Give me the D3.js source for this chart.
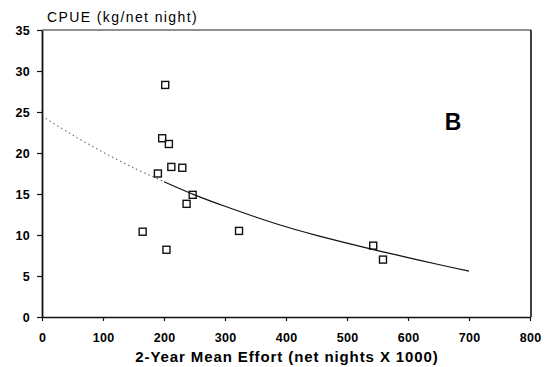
<!DOCTYPE html>
<html lang="en">
<head>
<meta charset="UTF-8">
<title>CPUE vs Effort</title>
<script src="https://d3js.org/d3.v7.min.js"></script>
<style>
    body { margin: 0; background: #fff; }
    svg { font-family: Arial, "Liberation Sans", sans-serif; display: block; }
    .tick text { font-size: 12.5px; font-weight: bold; fill: #000; letter-spacing: 0.3px; }
    .pt { fill: none; stroke: #111; stroke-width: 1.4px; }
</style>
</head>
<body>
<div id="chart"></div>
<script>
    // observed points: effort (net nights x 1000) and CPUE
    const effort = [202, 197, 208, 190, 212, 230, 247, 237, 165, 204, 323, 543, 559];
    const cpue   = [28.3, 21.8, 21.1, 17.5, 18.3, 18.2, 14.9, 13.8, 10.4, 8.2, 10.5, 8.7, 7.0];

    // fitted curve
    const curveX = [0, 50, 100, 150, 200, 250, 300, 350, 400, 450, 500, 550, 600, 650, 700];
    const curveY = [24.5, 22.2, 20.1, 18.2, 16.5, 14.9, 13.5, 12.2, 11.0, 9.95, 9.0, 8.1, 7.25, 6.4, 5.6];

    const xTicks = [0, 100, 200, 300, 400, 500, 600, 700, 800];
    const yTicks = [0, 5, 10, 15, 20, 25, 30, 35];

    const width = 557, height = 367;
    const margin = {top: 30, right: 27, bottom: 50, left: 42};
    const w = width - margin.left - margin.right;
    const h = height - margin.top - margin.bottom;

    const svg = d3.select("#chart").append("svg")
        .attr("width", width).attr("height", height);
    const g = svg.append("g").attr("transform", `translate(${margin.left},${margin.top})`);

    const x = d3.scaleLinear().domain([0, 800]).range([0, w]);
    const y = d3.scaleLinear().domain([0, 35]).range([h, 0]);

    // frame (top and right)
    g.append("line").attr("x1", 0).attr("x2", w + 1).attr("y1", 0).attr("y2", 0)
        .attr("stroke", "#222").attr("stroke-width", 1);
    g.append("line").attr("x1", w + 1).attr("x2", w + 1).attr("y1", 0).attr("y2", h)
        .attr("stroke", "#111").attr("stroke-width", 1.6);

    const xAxis = g.append("g").attr("transform", `translate(0,${h})`)
        .call(d3.axisBottom(x).tickValues(xTicks).tickSize(4).tickPadding(12).tickSizeOuter(0));
    const yAxis = g.append("g")
        .call(d3.axisLeft(y).tickValues(yTicks).tickSize(5).tickPadding(7).tickSizeOuter(0));
    xAxis.select(".domain").attr("stroke", "#111").attr("stroke-width", 1.6);
    yAxis.select(".domain").attr("stroke", "#111").attr("stroke-width", 1.8);
    g.selectAll(".tick line").attr("stroke", "#111").attr("stroke-width", 1.2);

    // curve: faint dotted at the left, solid afterwards
    const curve = curveX.map((d, i) => [d, curveY[i]]);
    const line = d3.line().x(d => x(d[0])).y(d => y(d[1])).curve(d3.curveCatmullRom);
    g.append("path").datum(curve.filter(d => d[0] <= 200)).attr("d", line)
        .attr("fill", "none").attr("stroke", "#444").attr("stroke-width", 1)
        .attr("stroke-dasharray", "1.5,3");
    g.append("path").datum(curve.filter(d => d[0] >= 200)).attr("d", line)
        .attr("fill", "none").attr("stroke", "#111").attr("stroke-width", 1.2);

    // points as hollow squares
    const s = 7;
    g.selectAll(".pt").data(effort).enter().append("rect")
        .attr("class", "pt")
        .attr("x", d => x(d) - s / 2)
        .attr("y", (d, i) => y(cpue[i]) - s / 2)
        .attr("width", s).attr("height", s);

    // titles
    svg.append("text").attr("x", 47).attr("y", 22)
        .attr("font-size", 14).attr("letter-spacing", 1.4)
        .text("CPUE (kg/net night)");
    svg.append("text").attr("x", margin.left + x(400) + 1).attr("y", 362)
        .attr("text-anchor", "middle").attr("font-size", 15).attr("font-weight", "bold")
        .attr("letter-spacing", 0.9)
        .text("2-Year Mean Effort (net nights X 1000)");
    svg.append("text").attr("x", 453).attr("y", 130)
        .attr("text-anchor", "middle").attr("font-size", 23).attr("font-weight", "bold")
        .text("B");
</script>
</body>
</html>
